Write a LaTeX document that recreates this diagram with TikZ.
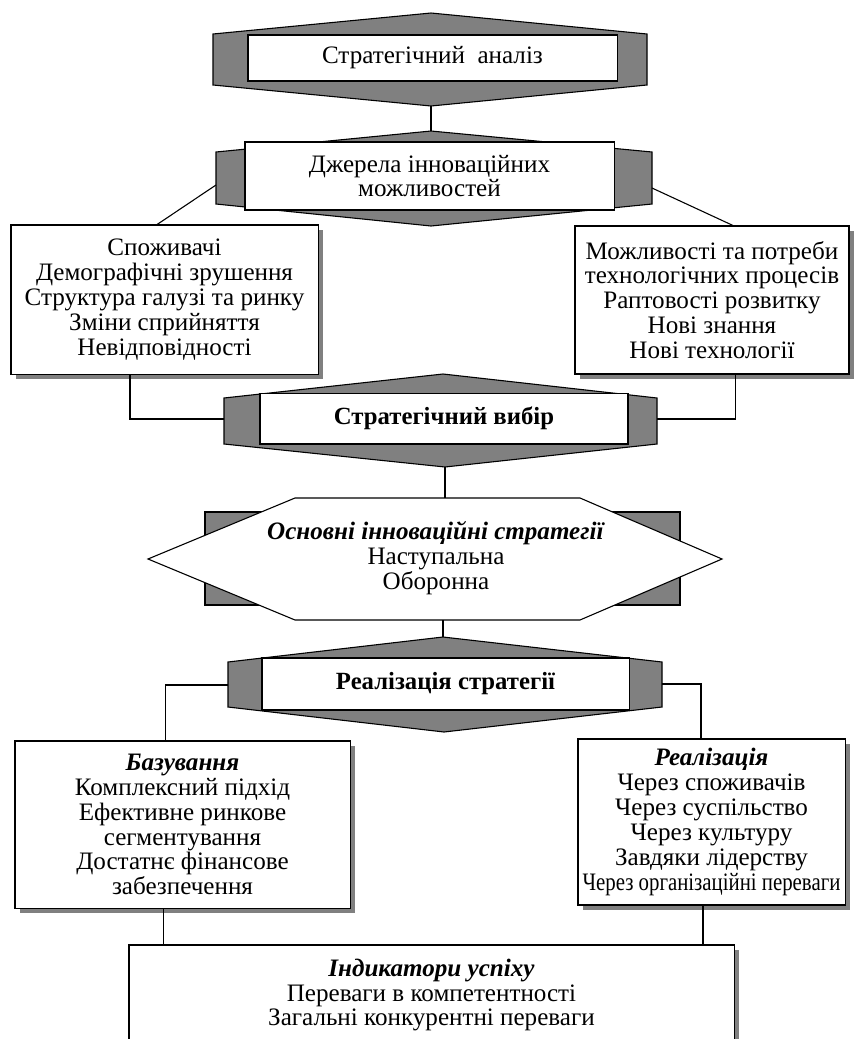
\documentclass[tikz,border=0pt]{standalone}
\usepackage{fontspec}
\setmainfont{Liberation Serif}
\usetikzlibrary{calc,shapes,positioning,shadows}
\definecolor{panelgray}{RGB}{128,128,128}
\tikzset{
    panel/.style={
    draw=black,fill=panelgray,line width=0.6pt
    },
    plate/.style={
    rectangle,draw=black,fill=white,line width=0.6pt,inner sep=0pt,align=center,font=\fontsize{13.8}{13.7}\selectfont
    },
    bplate/.style={
    plate,font=\fontsize{13.6}{13.7}\selectfont\bfseries
    },
    sbox/.style={
    plate,drop shadow={shadow xshift=2.75pt,shadow yshift=-2.75pt,fill=panelgray,opacity=1}
    },
    hexfill/.style={
    draw=black,fill=white,line width=0.6pt
    },
    txt/.style={
    align=center,inner sep=0pt,font=\fontsize{13.8}{13.7}\selectfont
    },
    link/.style={
    draw=black,line width=0.6pt
    },
}

\begin{document}
\begin{tikzpicture}[x=0.55pt,y=-0.55pt]
   \useasboundingbox (0,0) rectangle (859,1039);
   \clip (0,0) rectangle (859,1039);

   % strategic analysis
   \coordinate (aT) at (431,13);
   \coordinate (aB) at (431,106);
   \draw[panel] (213,34) -- (aT) -- (647,34) -- (647,85) -- (aB) -- (213,85) -- cycle;
   \node[plate,minimum width=203pt,minimum height=25.3pt] (anal) at (432.5,58) {Стратегічний\ \ аналіз};

   % sources
   \coordinate (bT) at (431,131);
   \coordinate (bB) at (431,226);
   \coordinate (bW) at (216,185);
   \coordinate (bE) at (652,188);
   \draw[panel] (216,152) -- (bT) -- (652,152) -- (652,204) -- (bB) -- (216,204) -- cycle;
   \node[plate,minimum width=203pt,minimum height=37.4pt] (src) at (429.5,176) {Джерела інноваційних\\можливостей};

   \node[sbox,minimum width=168.9pt,minimum height=82pt] (mkt) at (164.5,299.5) {Споживачі\\Демографічні зрушення\\Структура галузі та ринку\\Зміни сприйняття\\Невідповідності};
   \node[sbox,minimum width=150.7pt,minimum height=81.4pt] (tech) at (712,300) {Можливості та потреби\\технологічних процесів\\Раптовості розвитку\\Нові знання\\Нові технології};

   % strategic choice
   \coordinate (cT) at (443,374);
   \coordinate (cB) at (445,467);
   \coordinate (cW) at (224,419);
   \coordinate (cE) at (657,419);
   \draw[panel] (224,398) -- (cT) -- (657,398) -- (657,444) -- (cB) -- (224,444) -- cycle;
   \node[bplate,minimum width=202.4pt,minimum height=28pt] (choice) at (444,418.5) {Стратегічний вибір};

   % basic strategies
   \coordinate (dT) at (445,498);
   \coordinate (dB) at (443,620);
   \draw[panel] (205,512) rectangle (680,605);
   \draw[hexfill] (148,559) -- (295,498) -- (580,498) -- (722,559) -- (580,620) -- (295,620) -- cycle;
   \node[txt] (strat) at (436,558) {\textbf{\textit{Основні інноваційні стратегії}}\\Наступальна\\Оборонна};

   % implementation
   \coordinate (eT) at (443,637);
   \coordinate (eW) at (228,685);
   \coordinate (eE) at (662,684);
   \draw[panel] (228,662) -- (eT) -- (662,662) -- (662,707) -- (444,732) -- (228,707) -- cycle;
   \node[bplate,minimum width=201.9pt,minimum height=28.6pt] (impl) at (445.5,684) {Реалізація стратегії};

   \node[sbox,minimum width=184.3pt,minimum height=91.9pt] (base) at (182.5,824.5) {\textbf{\textit{Базування}}\\Комплексний підхід\\Ефективне ринкове\\сегментування\\Достатнє фінансове\\забезпечення};
   \node[sbox,minimum width=146.9pt,minimum height=91.3pt] (real) at (711.5,822) {\textbf{\textit{Реалізація}}\\Через споживачів\\Через суспільство\\Через культуру\\Завдяки лідерству\\\scalebox{0.83}[1]{Через організаційні переваги}};

   \node[sbox,minimum width=332.8pt,minimum height=55pt] (ind) at (431.5,995) {\textbf{\textit{Індикатори успіху}}\\Переваги в компетентності\\Загальні конкурентні переваги};

   \draw[link] (aB) -- (bT);
   \draw[link] (bW) -- ([xshift=-4pt]mkt.north);
   \draw[link] (bE) -- ([xshift=11.5pt]tech.north);
   \draw[link] ([xshift=-19pt]mkt.south) |- (cW);
   \draw[link] ([xshift=12.7pt]tech.south) |- (cE);
   \draw[link] (cB) -- (dT);
   \draw[link] (dB) -- (eT);
   \draw[link] (eW) -| ([xshift=-9.6pt]base.north);
   \draw[link] (eE) -| ([xshift=-5.8pt]real.north);
   \draw[link] ([xshift=-10.7pt]base.south) -- ([xshift=-10.7pt]base.south |- ind.north);
   \draw[link] ([xshift=-4.7pt]real.south) -- ([xshift=-4.7pt]real.south |- ind.north);
\end{tikzpicture}
\end{document}
